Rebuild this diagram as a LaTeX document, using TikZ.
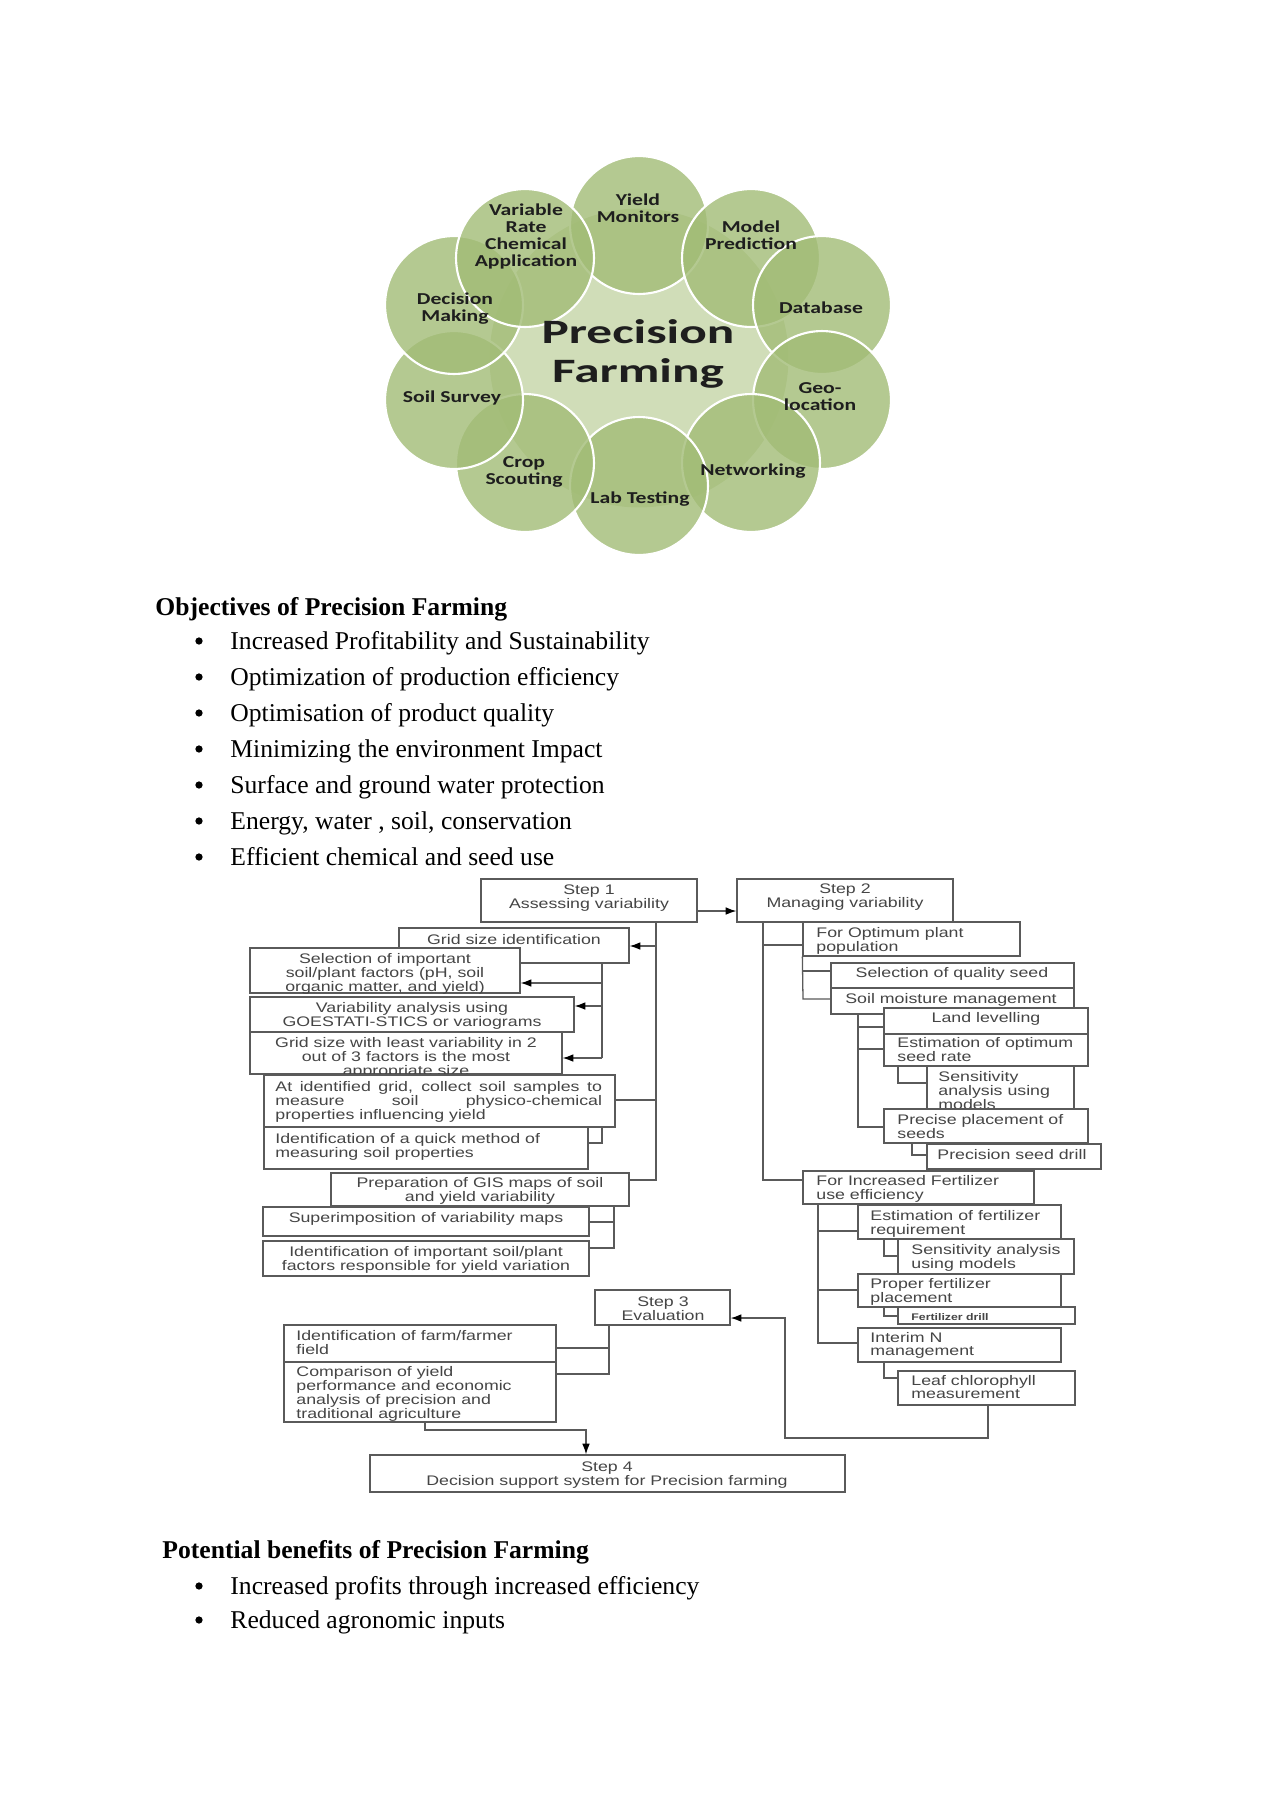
\documentclass[tikz,border=0pt]{standalone}
\usepackage{fontspec}
\setmainfont{Liberation Serif}
\newfontfamily\flfont[FakeStretch=1.28]{Liberation Sans}
\newfontfamily\cfont[FakeStretch=1.3]{Carlito}
\newfontfamily\cbigfont[FakeStretch=1.5]{Carlito}
\usetikzlibrary{arrows.meta,fit}
\definecolor{lineg}{HTML}{5A5A5A}
\definecolor{txtg}{HTML}{454545}
\definecolor{cgreen}{HTML}{A2BC76}
\definecolor{cgreenc}{HTML}{D0DDB8}
\definecolor{ctext}{HTML}{1E1E1E}
\newcommand\ftl[1]{\begin{tabular}[t]{@{}l@{}}#1\end{tabular}}
\newcommand\ftc[1]{\begin{tabular}[t]{@{}c@{}}#1\end{tabular}}
\tikzset{
  fbx/.style={draw=lineg, line width=0.6pt, fill=white, inner sep=0pt},
  ftx/.style={inner sep=0pt, text=txtg, font=\flfont\fontsize{6.5}{6.2}\selectfont},
  ftxl/.style={ftx, anchor=base west},
  ftxc/.style={ftx, anchor=base},
  fln/.style={draw=lineg, line width=0.6pt},
  farr/.style={fln, -{Latex[length=5pt,width=3.6pt,color=black]}},
  circ/.style={circle, fill=cgreen, fill opacity=0.8, draw=white, draw opacity=1, line width=1pt, minimum size=64.6pt, inner sep=0pt},
  ctx/.style={inner sep=0pt, anchor=base, text=ctext, font=\cfont\bfseries\fontsize{7.8}{8}\selectfont},
  btx/.style={inner sep=0pt, anchor=base west, font=\fontsize{12}{14}\selectfont},
  bhd/.style={btx, font=\bfseries\fontsize{12}{14}\selectfont},
  bulc/.style={circle, fill=black, inner sep=0pt, minimum size=3.4pt}
}
\begin{document}
\begin{tikzpicture}[x=0.4684pt,y=-0.4684pt]
\fill[white] (0,0) rectangle (1271,1797);
\useasboundingbox (0,0) rectangle (1271,1797);

% ---------------- circle diagram ----------------
\node[circle, fill=cgreenc, minimum size=140pt, inner sep=0pt] (pfc) at (639,358) {};
\node[circ] (cyield) at (639,225) {};
\node[circ] (cmodel) at (751,258) {};
\node[circ] (cdata) at (822,305) {};
\node[circ] (cgeo) at (822,400) {};
\node[circ] (cnet) at (751,463) {};
\node[circ] (clab) at (639,486) {};
\node[circ] (ccrop) at (525,463) {};
\node[circ] (csoil) at (454,400) {};
\node[circ] (cdec) at (454,305) {};
\node[circ] (cvar) at (525,258) {};

\node[ctx] (tyield) at (638,205) {\ftc{Yield\\Monitors}};
\node[ctx] (tmodel) at (751,232) {\ftc{Model\\Prediction}};
\node[ctx] (tvar) at (526,215) {\ftc{Variable\\Rate\\Chemical\\Application}};
\node[ctx] (tdec) at (455,304) {\ftc{Decision\\Making}};
\node[ctx] (tdata) at (821,313) {Database};
\node[ctx] (tsoil) at (452,402) {Soil Survey};
\node[ctx] (tgeo) at (820,393) {\ftc{Geo-\\location}};
\node[ctx] (tcrop) at (524,467) {\ftc{Crop\\Scouting}};
\node[ctx] (tnet) at (753,475) {Networking};
\node[ctx] (tlab) at (640,503) {Lab Testing};
\node[inner sep=0pt, anchor=base, text=ctext, font=\cbigfont\bfseries\fontsize{16}{18.7}\selectfont] (tpf) at (638,343) {\ftc{Precision\\Farming}};

% ---------------- objectives text ----------------
\node[bhd] (hobj) at (155,615) {Objectives of Precision Farming};
\node[bulc] (b1) at (199,641) {}; \node[btx] (o1) at (230,649) {Increased Profitability and Sustainability};
\node[bulc] (b2) at (199,677) {}; \node[btx] (o2) at (230,685) {Optimization of production efficiency};
\node[bulc] (b3) at (199,713) {}; \node[btx] (o3) at (230,721) {Optimisation of product quality};
\node[bulc] (b4) at (199,749) {}; \node[btx] (o4) at (230,757) {Minimizing the environment Impact};
\node[bulc] (b5) at (199,785) {}; \node[btx] (o5) at (230,793) {Surface and ground water protection};
\node[bulc] (b6) at (199,821) {}; \node[btx] (o6) at (230,829) {Energy, water , soil, conservation};
\node[bulc] (b7) at (199,857) {}; \node[btx] (o7) at (230,865) {Efficient chemical and seed use};

% ---------------- flowchart: junction coordinates ----------------
\coordinate (a0) at (656,922); \coordinate (a1) at (656,946);
\coordinate (a2) at (656,1100); \coordinate (a3) at (656,1180);
\coordinate (b0) at (602,963); \coordinate (b1) at (602,983);
\coordinate (b2) at (602,1006); \coordinate (b3) at (602,1058);
\coordinate (c0) at (602,1127); \coordinate (c1) at (602,1143);
\coordinate (d0) at (614,1206); \coordinate (d1) at (614,1222); \coordinate (d2) at (614,1248);
\coordinate (e0) at (609,1325); \coordinate (e1) at (609,1348); \coordinate (e2) at (609,1374);
\coordinate (f0) at (425,1422); \coordinate (f1) at (425,1430); \coordinate (f2) at (586,1430);
\coordinate (g0) at (697,911);
\coordinate (h0) at (763,922); \coordinate (h1) at (763,945); \coordinate (h2) at (763,1180);
\coordinate (i1) at (803,971); \coordinate (i2) at (803,999);
\coordinate (k0) at (858,1014); \coordinate (k1) at (858,1027); \coordinate (k2) at (858,1049); \coordinate (k3) at (858,1127);
\coordinate (l0) at (898,1066); \coordinate (l1) at (898,1083);
\coordinate (m0) at (912,1143); \coordinate (m1) at (912,1155);
\coordinate (n0) at (818,1204); \coordinate (n1) at (818,1231); \coordinate (n2) at (818,1290); \coordinate (n3) at (818,1343);
\coordinate (o0) at (884,1239); \coordinate (o1) at (884,1256);
\coordinate (p0) at (884,1307); \coordinate (p1) at (884,1316);
\coordinate (q0) at (884,1362); \coordinate (q1) at (884,1378);
\coordinate (r0) at (988,1405); \coordinate (r1) at (988,1438); \coordinate (r2) at (785,1438); \coordinate (r3) at (785,1318);

% ---------------- flowchart: boxes (left) ----------------
\node[fbx, fit={(481,879)(697,922)}] (step1) {};
\node[ftxc] (step1t) at (589,894) {\ftc{Step 1\\Assessing variability}};
\node[fbx, fit={(737,879)(953,922)}] (step2) {};
\node[ftxc] (step2t) at (845,893) {\ftc{Step 2\\Managing variability}};

\node[fbx, fit={(399,928)(629,963)}] (grid) {};
\node[ftxc] (gridt) at (514,944) {Grid size identification};
\node[fbx, fit={(250,948)(520,993)}] (sel) {};
\node[ftxc] (selt) at (385,963) {\ftc{Selection of important\\soil/plant factors (pH, soil\\organic matter, and yield)}};
\node[fbx, fit={(250,997)(574,1032)}] (var) {};
\node[ftxc] (vart) at (412,1012) {\ftc{Variability analysis using\\GOESTATI-STICS or variograms}};
\node[fbx, fit={(250,1032)(562,1074)}] (gridleast) {};
\node[ftxc] (gridleastt) at (406,1047) {\ftc{Grid size with least variability in 2\\out of 3 factors is the most\\appropriate size}};
\node[fbx, fit={(264,1075)(615,1127)}] (atid) {};
\node[ftxl] (atidt) at (275,1091) {\ftl{\makebox[153pt][s]{At identified grid, collect soil samples to}\\\makebox[153pt][s]{measure soil physico-chemical}\\properties influencing yield}};
\node[fbx, fit={(264,1127)(588,1169)}] (quick) {};
\node[ftxl] (quickt) at (275,1143) {\ftl{Identification of a quick method of\\measuring soil properties}};
\node[fbx, fit={(331,1173)(629,1206)}] (gis) {};
\node[ftxc] (gist) at (480,1187) {\ftc{Preparation of GIS maps of soil\\and yield variability}};
\node[fbx, fit={(263,1207)(589,1236)}] (super) {};
\node[ftxc] (supert) at (426,1222) {Superimposition of variability maps};
\node[fbx, fit={(263,1241)(589,1276)}] (impt) {};
\node[ftxc] (imptt) at (426,1256) {\ftc{Identification of important soil/plant\\factors responsible for yield variation}};

\node[fbx, fit={(595,1290)(730,1325)}] (step3) {};
\node[ftxc] (step3t) at (663,1306) {\ftc{Step 3\\Evaluation}};
\node[fbx, fit={(284,1325)(556,1362)}] (farm) {};
\node[ftxl] (farmt) at (296,1340) {\ftl{Identification of farm/farmer\\field}};
\node[fbx, fit={(284,1362)(556,1422)}] (comp) {};
\node[ftxl] (compt) at (296,1376) {\ftl{Comparison of yield\\performance and economic\\analysis of precision and\\traditional agriculture}};
\node[fbx, fit={(370,1455)(845,1492)}] (step4) {};
\node[ftxc] (step4t) at (607,1471) {\ftc{Step 4\\Decision support system for Precision farming}};

% ---------------- flowchart: boxes (right) ----------------
\node[fbx, fit={(803,922)(1020,956)}] (opt) {};
\node[ftxl] (optt) at (816,937) {\ftl{For Optimum plant\\population}};
\node[fbx, fit={(831,963)(1074,988)}] (qual) {};
\node[ftxc] (qualt) at (952,977) {Selection of quality seed};
\node[fbx, fit={(831,988)(1074,1014)}] (moist) {};
\node[ftxc] (moistt) at (951,1003) {Soil moisture management};
\node[fbx, fit={(884,1008)(1088,1034)}] (land) {};
\node[ftxc] (landt) at (986,1022) {Land levelling};
\node[fbx, fit={(884,1034)(1088,1066)}] (estseed) {};
\node[ftxl] (estseedt) at (897,1047) {\ftl{Estimation of optimum\\seed rate}};
\node[fbx, fit={(927,1066)(1074,1109)}] (sens) {};
\node[ftxl] (senst) at (938,1081) {\ftl{Sensitivity\\analysis using\\models}};
\node[fbx, fit={(884,1109)(1088,1143)}] (precise) {};
\node[ftxl] (preciset) at (897,1124) {\ftl{Precise placement of\\seeds}};
\node[fbx, fit={(927,1144)(1101,1169)}] (drill) {};
\node[ftxl] (drillt) at (937,1159) {Precision seed drill};
\node[fbx, fit={(803,1171)(1034,1204)}] (fert) {};
\node[ftxl] (fertt) at (816,1185) {\ftl{For Increased Fertilizer\\use efficiency}};
\node[fbx, fit={(858,1205)(1061,1239)}] (estfert) {};
\node[ftxl] (estfertt) at (870,1220) {\ftl{Estimation of fertilizer\\requirement}};
\node[fbx, fit={(898,1239)(1074,1274)}] (sensm) {};
\node[ftxl] (sensmt) at (911,1254) {\ftl{Sensitivity analysis\\using models}};
\node[fbx, fit={(858,1274)(1061,1307)}] (proper) {};
\node[ftxl] (propert) at (870,1288) {\ftl{Proper fertilizer\\placement}};
\node[fbx, fit={(898,1307)(1075,1324)}] (fdrill) {};
\node[ftxl, font=\flfont\bfseries\fontsize{4.5}{5}\selectfont] (fdrillt) at (911,1320) {Fertilizer drill};
\node[fbx, fit={(858,1328)(1061,1362)}] (interim) {};
\node[ftxl] (interimt) at (870,1342) {\ftl{Interim N\\management}};
\node[fbx, fit={(898,1371)(1075,1405)}] (leaf) {};
\node[ftxl] (leaft) at (911,1385) {\ftl{Leaf chlorophyll\\measurement}};

% ---------------- flowchart: connectors ----------------
\draw[farr] (step1.east |- g0) -- (step2.west |- g0);
\draw[fln] (step1.south -| a0) -- (a3) -- (gis.east |- a3);
\draw[farr] (a1) -- (grid.east |- a1);
\draw[fln] (a2) -- (atid.east |- a2);
\draw[fln] (grid.south -| b0) -- (b3);
\draw[farr] (b1) -- (sel.east |- b1);
\draw[farr] (b2) -- (var.east |- b2);
\draw[farr] (b3) -- (gridleast.east |- b3);
\draw[fln] (atid.south -| c0) -- (c1) -- (quick.east |- c1);
\draw[fln] (gis.south -| d0) -- (d2) -- (impt.east |- d2);
\draw[fln] (d1) -- (super.east |- d1);
\draw[fln] (step3.south -| e0) -- (e2) -- (comp.east |- e2);
\draw[fln] (e1) -- (farm.east |- e1);
\draw[farr] (comp.south -| f0) -- (f1) -- (f2) -- (step4.north -| f2);

\draw[fln] (step2.south -| h0) -- (h2) -- (fert.west |- h2);
\draw[fln] (h1) -- (opt.west |- h1);
\draw[fln] (opt.south west) -- (i2) -- (moist.west |- i2);
\draw[fln] (i1) -- (qual.west |- i1);
\draw[fln] (moist.south -| k0) -- (k3) -- (precise.west |- k3);
\draw[fln] (k1) -- (land.west |- k1);
\draw[fln] (k2) -- (estseed.west |- k2);
\draw[fln] (estseed.south -| l0) -- (l1) -- (sens.west |- l1);
\draw[fln] (precise.south -| m0) -- (m1) -- (drill.west |- m1);
\draw[fln] (fert.south -| n0) -- (n3) -- (interim.west |- n3);
\draw[fln] (n1) -- (estfert.west |- n1);
\draw[fln] (n2) -- (proper.west |- n2);
\draw[fln] (estfert.south -| o0) -- (o1) -- (sensm.west |- o1);
\draw[fln] (proper.south -| p0) -- (p1) -- (fdrill.west |- p1);
\draw[fln] (interim.south -| q0) -- (q1) -- (leaf.west |- q1);
\draw[farr] (leaf.south -| r0) -- (r1) -- (r2) -- (r3) -- (step3.east |- r3);

% ---------------- benefits text ----------------
\node[bhd] (hben) at (162,1558) {Potential benefits of Precision Farming};
\node[bulc] (b8) at (199,1586) {}; \node[btx] (p1t) at (230,1594) {Increased profits through increased efficiency};
\node[bulc] (b9) at (199,1620) {}; \node[btx] (p2t) at (230,1628) {Reduced agronomic inputs};
\end{tikzpicture}
\end{document}
